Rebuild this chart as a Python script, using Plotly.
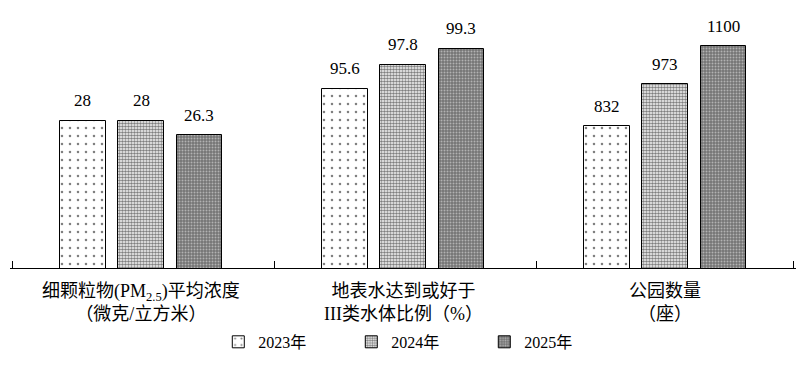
import plotly.graph_objects as go

groups = ["细颗粒物(PM<sub>2.5</sub>)平均浓度<br>（微克/立方米）",
          "地表水达到或好于<br>III类水体比例（%）",
          "公园数量<br>（座）"]
years = ["2023年", "2024年", "2025年"]
values = [[28, 28, 26.3], [95.6, 97.8, 99.3], [832, 973, 1100]]
labels = [["28", "28", "26.3"], ["95.6", "97.8", "99.3"], ["832", "973", "1100"]]
yranges = [[10.5, 40.0], [79.0, 101.96], [360, 1186.7]]

FONT = "Liberation Serif, Times New Roman, Noto Sans CJK SC"
patterns = [
    dict(shape=".", size=8, solidity=0.08, fgcolor="black", bgcolor="white"),
    dict(shape=".", size=3, solidity=0.6, fgcolor="black", bgcolor="white"),
    dict(shape=".", size=3, solidity=0.35, fgcolor="#f0f0f0", bgcolor="#747474"),
]

fig = go.Figure()
R = 2.24
E = 0.035
doms = [[0, 1/3], [1/3, 2/3], [2/3, 1]]
for g in range(3):
    xa = "x" if g == 0 else f"x{g+1}"
    ya = "y" if g == 0 else f"y{g+1}"
    for k in range(3):
        fig.add_trace(go.Bar(
            x=[k - 1], y=[values[g][k]], name=years[k],
            xaxis=xa, yaxis=ya, width=0.786,
            marker=dict(color="white", line=dict(color="black", width=1),
                        pattern=patterns[k]),
            legendgroup=years[k], showlegend=(g == 0),
        ))
        fig.add_annotation(x=k - 1, xref=xa, y=values[g][k], yref=ya,
                           text=labels[g][k], showarrow=False,
                           yanchor="middle", yshift=20,
                           font=dict(family=FONT, size=17, color="black"))
    key = "xaxis" if g == 0 else f"xaxis{g+1}"
    ykey = "yaxis" if g == 0 else f"yaxis{g+1}"
    tv = [-R + E, R - E] if g == 2 else [-R + E]
    fig.layout[key] = dict(domain=doms[g], range=[-R, R], anchor=ya,
                           showline=True, linecolor="black", linewidth=1,
                           ticks="inside", ticklen=7, tickcolor="black",
                           tickvals=tv, showticklabels=False,
                           showgrid=False, zeroline=False, fixedrange=True)
    fig.layout[ykey] = dict(range=yranges[g], visible=False, anchor=xa,
                            showgrid=False, zeroline=False)
    fig.add_annotation(x=0, xref=xa, y=-0.045, yref="paper", yanchor="top",
                       text=groups[g], showarrow=False, align="center",
                       font=dict(family=FONT, size=18, color="black"))

fig.update_layout(
    width=810, height=367,
    margin=dict(l=2, r=22, t=12, b=107, autoexpand=False),
    plot_bgcolor="white", paper_bgcolor="white",
    bargap=0,
    legend=dict(orientation="h", x=0.265, xanchor="left", y=-0.298, yanchor="middle",
                font=dict(family=FONT, size=16, color="black"),
                entrywidth=88, entrywidthmode="pixels", itemwidth=30),
    showlegend=True,
)
fig.write_html("out.html")
